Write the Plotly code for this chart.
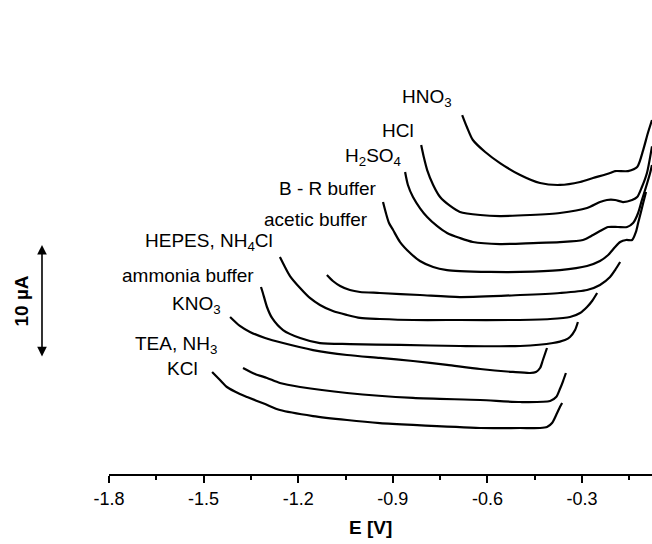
import plotly.graph_objects as go

# Potential E [V] and current [µA] (curves vertically offset as in the original figure)
hno3_x = [-0.680, -0.665, -0.646, -0.607, -0.560, -0.496, -0.433, -0.370, -0.306, -0.265, -0.211, -0.195, -0.154, -0.125, -0.106, -0.091, -0.078]
hno3_y = [31.77, 30.71, 29.56, 28.50, 27.52, 26.46, 25.75, 25.58, 25.84, 26.19, 26.64, 26.81, 26.81, 27.17, 28.67, 30.18, 31.33]

hcl_x = [-0.810, -0.801, -0.791, -0.772, -0.750, -0.718, -0.687, -0.623, -0.560, -0.465, -0.370, -0.284, -0.243, -0.221, -0.195, -0.170, -0.141, -0.125, -0.110, -0.094, -0.078]
hcl_y = [29.12, 27.96, 26.90, 25.58, 24.51, 23.72, 23.19, 22.92, 22.83, 22.92, 23.10, 23.54, 24.07, 24.25, 24.25, 24.07, 24.25, 24.51, 25.40, 26.64, 29.00]

h2so4_x = [-0.861, -0.852, -0.836, -0.814, -0.791, -0.760, -0.728, -0.687, -0.646, -0.560, -0.455, -0.370, -0.297, -0.265, -0.243, -0.217, -0.186, -0.157, -0.138, -0.122, -0.110, -0.097, -0.084, -0.078]
h2so4_y = [26.73, 25.58, 24.51, 23.54, 22.74, 21.95, 21.33, 20.88, 20.53, 20.35, 20.44, 20.53, 20.71, 21.15, 21.50, 21.86, 21.86, 21.86, 22.21, 23.10, 24.25, 25.40, 26.64, 27.35]

br_x = [-0.931, -0.921, -0.912, -0.899, -0.877, -0.845, -0.814, -0.772, -0.728, -0.687, -0.592, -0.496, -0.370, -0.284, -0.243, -0.217, -0.195, -0.179, -0.160, -0.141, -0.129, -0.122, -0.113, -0.106, -0.097]
br_y = [24.07, 23.01, 22.21, 21.59, 20.53, 19.56, 18.85, 18.32, 18.05, 17.96, 17.88, 17.88, 18.05, 18.41, 18.85, 19.38, 20.09, 20.53, 20.71, 20.71, 21.42, 22.21, 23.19, 23.98, 24.96]

acetic_x = [-1.109, -1.090, -1.067, -1.036, -1.004, -0.941, -0.814, -0.687, -0.496, -0.370, -0.284, -0.243, -0.211, -0.195, -0.179]
acetic_y = [17.61, 17.08, 16.64, 16.28, 16.11, 16.02, 15.84, 15.66, 15.84, 16.02, 16.28, 16.73, 17.43, 18.05, 18.76]

hepes_x = [-1.258, -1.242, -1.226, -1.194, -1.163, -1.131, -1.090, -1.045, -1.004, -0.941, -0.836, -0.687, -0.519, -0.401, -0.338, -0.306, -0.284, -0.268, -0.252]
hepes_y = [19.20, 18.32, 17.52, 16.46, 15.58, 14.96, 14.42, 14.07, 13.81, 13.72, 13.63, 13.63, 13.63, 13.72, 13.89, 14.25, 14.78, 15.31, 16.02]

ammonia_x = [-1.318, -1.312, -1.299, -1.283, -1.248, -1.194, -1.131, -1.036, -0.877, -0.687, -0.496, -0.392, -0.354, -0.338, -0.322, -0.313]
ammonia_y = [16.55, 16.02, 14.78, 13.81, 12.74, 12.04, 11.59, 11.50, 11.42, 11.33, 11.33, 11.59, 11.86, 12.12, 12.74, 13.45]

kno3_x = [-1.416, -1.385, -1.353, -1.305, -1.248, -1.153, -1.045, -0.941, -0.836, -0.728, -0.623, -0.519, -0.465, -0.446, -0.433, -0.424, -0.411]
kno3_y = [13.89, 13.10, 12.57, 12.04, 11.59, 10.97, 10.53, 10.27, 10.00, 9.65, 9.29, 9.03, 8.94, 9.03, 9.38, 10.09, 11.15]

tea_x = [-1.375, -1.337, -1.299, -1.258, -1.194, -1.045, -0.836, -0.623, -0.496, -0.401, -0.382, -0.370, -0.360, -0.351]
tea_y = [9.38, 8.85, 8.50, 8.05, 7.70, 7.17, 6.73, 6.55, 6.37, 6.46, 6.81, 7.52, 8.23, 8.94]

kcl_x = [-1.473, -1.448, -1.426, -1.385, -1.362, -1.305, -1.258, -1.153, -1.045, -0.941, -0.836, -0.623, -0.496, -0.433, -0.411, -0.395, -0.379, -0.370, -0.363]
kcl_y = [9.03, 8.32, 7.70, 7.08, 6.81, 6.19, 5.66, 5.13, 4.78, 4.51, 4.34, 4.07, 4.07, 4.07, 4.16, 4.51, 5.40, 5.93, 6.28]

series = [
    ("HNO3", hno3_x, hno3_y),
    ("HCl", hcl_x, hcl_y),
    ("H2SO4", h2so4_x, h2so4_y),
    ("B - R buffer", br_x, br_y),
    ("acetic buffer", acetic_x, acetic_y),
    ("HEPES, NH4Cl", hepes_x, hepes_y),
    ("ammonia buffer", ammonia_x, ammonia_y),
    ("KNO3", kno3_x, kno3_y),
    ("TEA, NH3", tea_x, tea_y),
    ("KCl", kcl_x, kcl_y),
]

# Curve labels and their (left) anchor positions in data units
label_texts = ["HNO<sub>3</sub>", "HCl", "H<sub>2</sub>SO<sub>4</sub>", "B - R buffer", "acetic buffer",
               "HEPES, NH<sub>4</sub>Cl", "ammonia buffer", "KNO<sub>3</sub>", "TEA, NH<sub>3</sub>", "KCl"]
label_x = [-0.877, -0.941, -1.058, -1.267, -1.315, -1.692, -1.765, -1.607, -1.724, -1.622]
label_y = [33.27, 30.44, 28.05, 25.31, 22.48, 20.53, 17.61, 14.96, 11.42, 9.38]

tick_vals = [-1.8, -1.5, -1.2, -0.9, -0.6, -0.3]
tick_text = ["-1.8", "-1.5", "-1.2", "-0.9", "-0.6", "-0.3"]

scale_bar_top = 20.27   # µA
scale_bar_len = 10.0    # µA

FONT = "Liberation Sans, Arial, Helvetica, sans-serif"

fig = go.Figure()
for name, xs, ys in series:
    fig.add_trace(go.Scatter(x=xs, y=ys, mode="lines", name=name,
                             line=dict(color="black", width=2.2, shape="spline", smoothing=0.7),
                             showlegend=False))

for t, lx, ly in zip(label_texts, label_x, label_y):
    fig.add_annotation(x=lx, y=ly, xref="x", yref="y", text=t, showarrow=False,
                       xanchor="left", yanchor="middle",
                       font=dict(family=FONT, size=19, color="black"))

# 10 µA scale bar
fig.add_annotation(x=-0.1234, xref="paper", y=scale_bar_top, yref="y",
                   ax=0, axref="pixel", ay=scale_bar_top - scale_bar_len, ayref="y",
                   text="", showarrow=True, arrowhead=2, arrowside="end+start",
                   arrowsize=1.2, arrowwidth=1.6, arrowcolor="black")
fig.add_annotation(x=-0.162, xref="paper", y=scale_bar_top - scale_bar_len / 2, yref="y",
                   text="<b>10 µA</b>", showarrow=False, textangle=-90,
                   xanchor="center", yanchor="middle",
                   font=dict(family=FONT, size=19, color="black"))

# x-axis title
fig.add_annotation(x=0.4807, xref="paper", y=-0.112, yref="paper",
                   text="<b>E [V]</b>", showarrow=False, xanchor="center", yanchor="middle",
                   font=dict(family=FONT, size=19, color="black"))

fig.update_layout(
    width=652, height=544,
    margin=dict(l=109, r=0, t=0, b=70),
    paper_bgcolor="white", plot_bgcolor="white",
    font=dict(family=FONT, color="black"),
    xaxis=dict(range=[-1.8, -0.078], showgrid=False, zeroline=False,
               showline=True, linecolor="black", linewidth=2,
               ticks="outside", ticklen=7, tickwidth=2, tickcolor="black",
               tickvals=tick_vals, ticktext=tick_text,
               tickfont=dict(family=FONT, size=18, color="black"),
               minor=dict(dtick=0.15, tick0=-1.8, ticks="outside", ticklen=4,
                          tickwidth=1.5, tickcolor="black", showgrid=False)),
    yaxis=dict(range=[0, 41.95], visible=False),
)

fig.write_html("out.html")
